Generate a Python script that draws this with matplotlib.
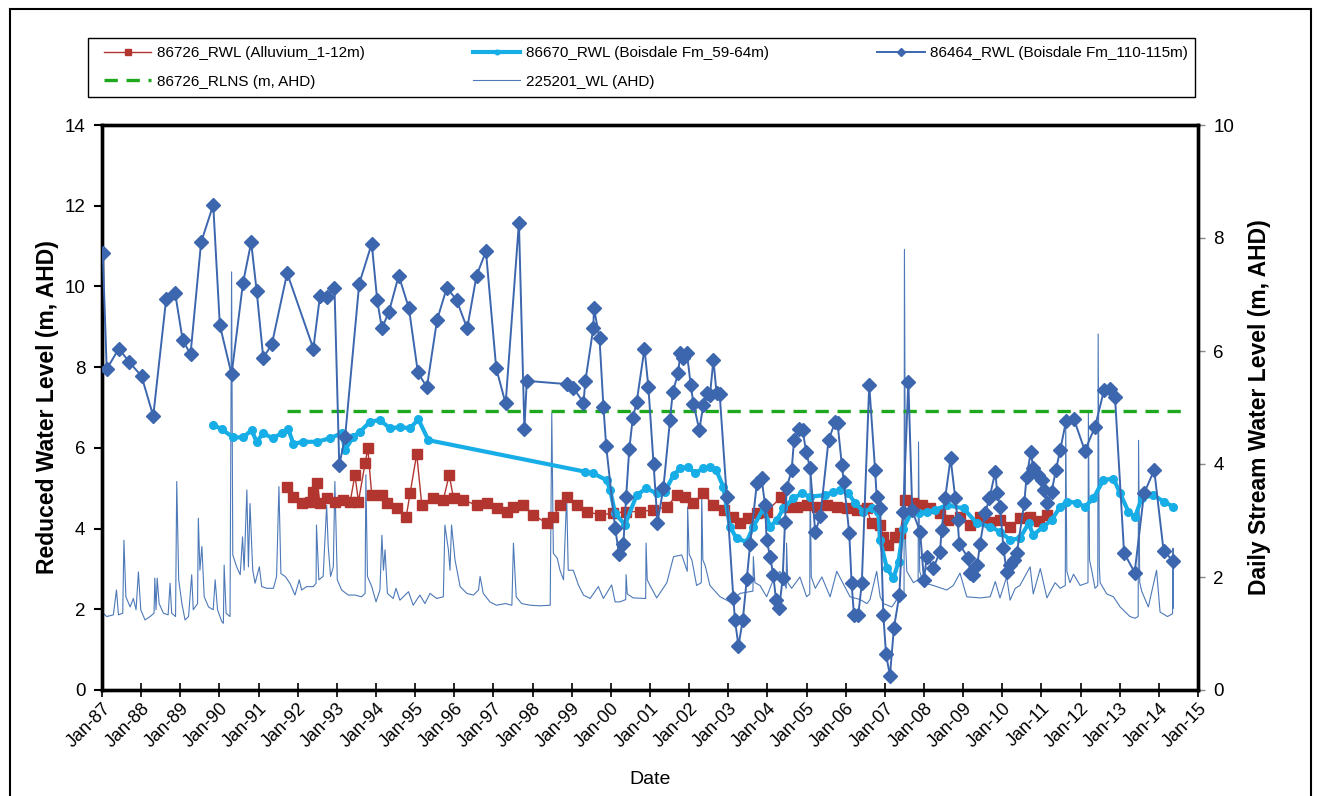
import datetime as dt
import matplotlib
matplotlib.use("Agg")
import matplotlib.pyplot as plt
import matplotlib.dates as mdates
from matplotlib.patches import Rectangle

plt.rcParams['font.family'] = ['Liberation Sans', 'DejaVu Sans']

# 86726_RWL (Alluvium_1-12m), decimal year / reduced water level (m AHD)
rwl_86726_year = [
    1991.73, 1991.89, 1992.10, 1992.31, 1992.40, 1992.50, 1992.57, 1992.74, 1992.95, 1993.16,
    1993.34, 1993.46, 1993.55, 1993.72, 1993.79, 1993.89, 1994.15, 1994.27, 1994.53, 1994.77,
    1994.87, 1995.04, 1995.17, 1995.46, 1995.72, 1995.87, 1995.98, 1996.23, 1996.57, 1996.83,
    1997.08, 1997.34, 1997.51, 1997.76, 1998.02, 1998.36, 1998.53, 1998.70, 1998.87, 1999.13,
    1999.38, 1999.72, 2000.06, 2000.40, 2000.75, 2001.08, 2001.43, 2001.68, 2001.90, 2002.11,
    2002.36, 2002.62, 2002.88, 2003.13, 2003.30, 2003.51, 2003.73, 2003.98, 2004.36, 2004.49,
    2004.75, 2005.00, 2005.26, 2005.51, 2005.77, 2006.03, 2006.28, 2006.54, 2006.66, 2006.88,
    2006.96, 2007.09, 2007.26, 2007.39, 2007.52, 2007.73, 2007.94, 2008.15, 2008.41, 2008.62,
    2008.92, 2009.18, 2009.43, 2009.69, 2009.94, 2010.20, 2010.45, 2010.71, 2010.95, 2011.14]
rwl_86726_level = [
    5.04, 4.79, 4.63, 4.67, 4.91, 5.12, 4.63, 4.75, 4.67, 4.71,
    4.67, 5.33, 4.67, 5.62, 5.99, 4.83, 4.83, 4.63, 4.50, 4.29,
    4.87, 5.85, 4.58, 4.75, 4.71, 5.33, 4.75, 4.71, 4.58, 4.63,
    4.50, 4.42, 4.54, 4.58, 4.34, 4.13, 4.29, 4.58, 4.79, 4.58,
    4.42, 4.34, 4.38, 4.42, 4.42, 4.46, 4.54, 4.83, 4.79, 4.63,
    4.87, 4.58, 4.46, 4.29, 4.13, 4.25, 4.38, 4.42, 4.79, 4.54,
    4.54, 4.58, 4.54, 4.58, 4.54, 4.50, 4.46, 4.50, 4.13, 4.09,
    3.80, 3.59, 3.80, 3.88, 4.71, 4.63, 4.58, 4.50, 4.38, 4.21,
    4.29, 4.09, 4.29, 4.17, 4.21, 4.05, 4.25, 4.29, 4.20, 4.34]

# 86670_RWL (Boisdale Fm_59-64m)
rwl_86670_year = [
    1989.84, 1990.06, 1990.35, 1990.61, 1990.82, 1990.95, 1991.12, 1991.36, 1991.59, 1991.76,
    1991.89, 1992.14, 1992.49, 1992.83, 1993.12, 1993.21, 1993.42, 1993.59, 1993.85, 1994.10,
    1994.36, 1994.61, 1994.87, 1995.08, 1995.34, 1999.34, 1999.55, 1999.89, 1999.98, 2000.11,
    2000.36, 2000.66, 2000.91, 2001.17, 2001.38, 2001.60, 2001.77, 2001.98, 2002.15, 2002.36,
    2002.53, 2002.69, 2002.87, 2003.04, 2003.21, 2003.47, 2003.64, 2003.90, 2004.07, 2004.24,
    2004.41, 2004.66, 2004.88, 2005.09, 2005.47, 2005.68, 2005.86, 2006.07, 2006.24, 2006.45,
    2006.66, 2006.83, 2006.88, 2007.05, 2007.22, 2007.35, 2007.47, 2007.69, 2007.86, 2008.07,
    2008.28, 2008.58, 2009.01, 2009.35, 2009.69, 2009.94, 2010.20, 2010.45, 2010.67, 2010.79,
    2011.05, 2011.26, 2011.48, 2011.65, 2011.90, 2012.11, 2012.33, 2012.58, 2012.84, 2013.01,
    2013.22, 2013.39, 2013.56, 2013.86, 2014.12, 2014.37]
rwl_86670_level = [
    6.57, 6.46, 6.26, 6.26, 6.44, 6.15, 6.36, 6.24, 6.36, 6.46,
    6.10, 6.15, 6.15, 6.24, 6.36, 5.95, 6.28, 6.40, 6.65, 6.69,
    6.48, 6.52, 6.48, 6.71, 6.19, 5.41, 5.37, 5.20, 4.96, 4.38,
    4.09, 4.83, 5.00, 4.87, 4.91, 5.33, 5.49, 5.53, 5.37, 5.49,
    5.52, 5.45, 5.04, 4.05, 3.76, 3.67, 4.05, 4.50, 4.05, 4.21,
    4.50, 4.75, 4.87, 4.79, 4.83, 4.91, 4.96, 4.87, 4.63, 4.42,
    4.50, 4.42, 3.72, 3.02, 2.77, 3.18, 4.00, 4.42, 4.38, 4.42,
    4.46, 4.58, 4.50, 4.13, 4.05, 3.92, 3.72, 3.76, 4.13, 3.84,
    4.05, 4.21, 4.54, 4.67, 4.64, 4.54, 4.75, 5.20, 5.24, 4.87,
    4.42, 4.29, 4.75, 4.83, 4.67, 4.54]

# 86464_RWL (Boisdale Fm_110-115m)
rwl_86464_year = [
    1987.02, 1987.12, 1987.43, 1987.70, 1988.01, 1988.31, 1988.64, 1988.87, 1989.06, 1989.26,
    1989.53, 1989.84, 1990.01, 1990.31, 1990.60, 1990.81, 1990.95, 1991.12, 1991.34, 1991.73,
    1992.40, 1992.57, 1992.74, 1992.94, 1993.06, 1993.21, 1993.57, 1993.89, 1994.03, 1994.15,
    1994.33, 1994.58, 1994.84, 1995.07, 1995.30, 1995.56, 1995.81, 1996.06, 1996.33, 1996.57,
    1996.81, 1997.07, 1997.31, 1997.65, 1997.79, 1997.85, 1998.87, 1999.04, 1999.30, 1999.35,
    1999.55, 1999.57, 1999.71, 1999.81, 1999.88, 2000.11, 2000.21, 2000.32, 2000.39, 2000.47,
    2000.56, 2000.66, 2000.86, 2000.96, 2001.09, 2001.19, 2001.34, 2001.51, 2001.58, 2001.72,
    2001.77, 2001.85, 2001.94, 2002.04, 2002.11, 2002.26, 2002.36, 2002.45, 2002.53, 2002.62,
    2002.70, 2002.78, 2002.96, 2003.13, 2003.17, 2003.26, 2003.37, 2003.47, 2003.56, 2003.73,
    2003.85, 2003.94, 2003.98, 2004.07, 2004.15, 2004.22, 2004.30, 2004.39, 2004.45, 2004.49,
    2004.62, 2004.68, 2004.82, 2004.90, 2004.99, 2005.09, 2005.22, 2005.35, 2005.56, 2005.73,
    2005.79, 2005.90, 2005.95, 2006.09, 2006.15, 2006.21, 2006.32, 2006.41, 2006.60, 2006.75,
    2006.79, 2006.88, 2006.96, 2007.03, 2007.13, 2007.23, 2007.37, 2007.47, 2007.60, 2007.70,
    2007.90, 2008.00, 2008.07, 2008.24, 2008.41, 2008.45, 2008.54, 2008.68, 2008.80, 2008.86,
    2008.90, 2009.13, 2009.18, 2009.26, 2009.36, 2009.43, 2009.56, 2009.67, 2009.82, 2009.87,
    2009.94, 2010.03, 2010.11, 2010.20, 2010.31, 2010.37, 2010.56, 2010.62, 2010.73, 2010.79,
    2010.92, 2011.01, 2011.07, 2011.15, 2011.26, 2011.37, 2011.48, 2011.63, 2011.83, 2012.11,
    2012.37, 2012.60, 2012.75, 2012.88, 2013.11, 2013.38, 2013.62, 2013.88, 2014.12, 2014.36]
rwl_86464_level = [
    10.83, 7.95, 8.46, 8.12, 7.78, 6.79, 9.69, 9.83, 8.67, 8.32,
    11.09, 12.02, 9.04, 7.82, 10.08, 11.09, 9.89, 8.23, 8.57, 10.33,
    8.46, 9.77, 9.75, 9.97, 5.57, 6.28, 10.07, 11.06, 9.66, 8.96,
    9.37, 10.27, 9.46, 7.87, 7.50, 9.17, 9.97, 9.66, 8.96, 10.27,
    10.87, 7.97, 7.10, 11.58, 6.46, 7.66, 7.58, 7.49, 7.12, 7.66,
    8.96, 9.46, 8.71, 7.02, 6.05, 4.01, 3.37, 3.61, 4.77, 5.96,
    6.73, 7.14, 8.46, 7.50, 5.59, 4.15, 5.00, 6.69, 7.39, 7.85,
    8.34, 8.22, 8.36, 7.56, 7.09, 6.44, 7.06, 7.35, 7.30, 8.18,
    7.35, 7.33, 4.79, 2.27, 1.73, 1.10, 1.73, 2.74, 3.63, 5.12,
    5.25, 4.58, 3.72, 3.30, 2.85, 2.23, 2.02, 2.77, 4.17, 5.00,
    5.45, 6.19, 6.46, 6.44, 5.90, 5.49, 3.91, 4.30, 6.19, 6.65,
    6.61, 5.57, 5.16, 3.88, 2.64, 1.86, 1.86, 2.64, 7.56, 5.45,
    4.79, 4.50, 1.86, 0.89, 0.35, 1.53, 2.35, 4.42, 7.64, 4.45,
    3.92, 2.73, 3.30, 3.02, 3.43, 3.96, 4.75, 5.74, 4.75, 4.21,
    3.63, 3.26, 2.89, 2.85, 3.10, 3.62, 4.38, 4.75, 5.41, 4.87,
    4.54, 3.51, 2.93, 3.10, 3.22, 3.39, 4.63, 5.29, 5.90, 5.49,
    5.33, 5.20, 4.96, 4.63, 4.91, 5.45, 5.95, 6.67, 6.71, 5.93,
    6.52, 7.43, 7.47, 7.27, 3.40, 2.91, 4.87, 5.45, 3.45, 3.20]

# 86726_RLNS (m, AHD)
rlns_year = [1991.73, 2014.59]
rlns_level = [6.91, 6.91]

# 225201_WL (AHD), daily stream level (right axis)
stream_year = [
    1987.03, 1987.12, 1987.29, 1987.37, 1987.42, 1987.53, 1987.56, 1987.61, 1987.72, 1987.80,
    1987.87, 1987.93, 1987.99, 1988.10, 1988.23, 1988.33, 1988.35, 1988.38, 1988.41, 1988.46,
    1988.57, 1988.69, 1988.74, 1988.78, 1988.88, 1988.91, 1988.96, 1989.04, 1989.12, 1989.21,
    1989.29, 1989.33, 1989.44, 1989.46, 1989.50, 1989.55, 1989.61, 1989.72, 1989.84, 1989.89,
    1989.95, 1990.06, 1990.10, 1990.12, 1990.17, 1990.27, 1990.31, 1990.34, 1990.44, 1990.53,
    1990.59, 1990.63, 1990.70, 1990.74, 1990.78, 1990.85, 1990.91, 1991.02, 1991.08, 1991.21,
    1991.38, 1991.46, 1991.52, 1991.57, 1991.68, 1991.80, 1991.93, 1992.04, 1992.10, 1992.23,
    1992.40, 1992.47, 1992.48, 1992.54, 1992.65, 1992.74, 1992.78, 1992.84, 1992.91, 1992.95,
    1993.01, 1993.12, 1993.29, 1993.46, 1993.63, 1993.72, 1993.74, 1993.78, 1993.89, 1994.00,
    1994.10, 1994.15, 1994.19, 1994.23, 1994.29, 1994.44, 1994.51, 1994.61, 1994.83, 1994.95,
    1995.12, 1995.25, 1995.38, 1995.55, 1995.72, 1995.76, 1995.85, 1995.89, 1995.93, 1996.02,
    1996.15, 1996.32, 1996.49, 1996.62, 1996.66, 1996.74, 1996.91, 1997.08, 1997.30, 1997.47,
    1997.51, 1997.58, 1997.72, 1997.94, 1998.19, 1998.45, 1998.49, 1998.53, 1998.63, 1998.70,
    1998.79, 1998.87, 1998.91, 1999.04, 1999.17, 1999.30, 1999.47, 1999.68, 1999.81, 2000.02,
    2000.11, 2000.23, 2000.38, 2000.39, 2000.42, 2000.57, 2000.89, 2000.90, 2000.93, 2001.00,
    2001.17, 2001.43, 2001.60, 2001.81, 2001.95, 2001.96, 2002.00, 2002.07, 2002.19, 2002.31,
    2002.32, 2002.35, 2002.41, 2002.53, 2002.79, 2003.04, 2003.30, 2003.63, 2003.64, 2003.68,
    2003.81, 2003.98, 2004.15, 2004.32, 2004.48, 2004.49, 2004.52, 2004.62, 2004.83, 2005.00,
    2005.08, 2005.09, 2005.12, 2005.22, 2005.39, 2005.60, 2005.77, 2006.11, 2006.37, 2006.54,
    2006.62, 2006.79, 2006.88, 2006.96, 2007.18, 2007.35, 2007.49, 2007.50, 2007.53, 2007.56,
    2007.73, 2007.85, 2007.86, 2007.89, 2007.98, 2008.24, 2008.58, 2008.75, 2008.92, 2009.09,
    2009.43, 2009.69, 2009.82, 2009.94, 2010.11, 2010.20, 2010.33, 2010.45, 2010.71, 2010.79,
    2010.97, 2011.14, 2011.35, 2011.48, 2011.61, 2011.62, 2011.65, 2011.73, 2011.82, 2011.99,
    2012.19, 2012.20, 2012.23, 2012.29, 2012.37, 2012.44, 2012.45, 2012.48, 2012.50, 2012.67,
    2012.84, 2013.01, 2013.26, 2013.39, 2013.47, 2013.48, 2013.51, 2013.56, 2013.73, 2013.94,
    2014.03, 2014.22, 2014.35, 2014.36, 2014.37]
stream_level = [
    1.36, 1.30, 1.33, 1.77, 1.33, 1.36, 2.65, 1.65, 1.47, 1.62,
    1.42, 2.09, 1.42, 1.24, 1.30, 1.36, 1.98, 1.42, 1.98, 1.53,
    1.36, 1.33, 1.89, 1.36, 1.30, 3.69, 1.95, 1.53, 1.24, 1.30,
    2.04, 1.42, 1.53, 3.04, 2.12, 2.54, 1.65, 1.47, 1.42, 1.95,
    1.42, 1.21, 1.18, 2.21, 1.36, 1.30, 7.40, 2.39, 2.18, 2.04,
    2.71, 2.12, 3.54, 2.18, 3.30, 2.12, 1.89, 2.18, 1.83, 1.80,
    1.80, 2.01, 3.60, 2.06, 2.01, 1.89, 1.68, 1.95, 1.77, 1.83,
    1.83, 1.89, 2.92, 1.95, 2.01, 3.27, 2.54, 2.01, 2.18, 3.69,
    1.95, 1.77, 1.68, 1.68, 1.65, 1.71, 3.81, 2.01, 1.83, 1.56,
    1.77, 2.74, 2.12, 2.48, 1.71, 1.62, 1.80, 1.59, 1.74, 1.50,
    1.68, 1.53, 1.71, 1.62, 1.65, 2.92, 2.48, 2.12, 2.92, 2.30,
    1.83, 1.71, 1.68, 1.77, 2.01, 1.71, 1.56, 1.50, 1.53, 1.50,
    2.60, 1.65, 1.53, 1.50, 1.49, 1.50, 4.90, 2.42, 2.33, 2.12,
    1.95, 3.45, 2.12, 2.12, 1.86, 1.68, 1.62, 1.83, 1.62, 1.86,
    1.56, 1.56, 1.60, 2.04, 1.70, 1.63, 1.62, 2.60, 1.95, 1.85,
    1.63, 1.90, 2.36, 2.39, 2.10, 3.24, 2.40, 2.30, 1.85, 1.90,
    3.48, 2.30, 2.20, 1.85, 1.65, 1.56, 1.71, 1.75, 2.36, 1.90,
    1.85, 1.65, 1.95, 2.10, 1.80, 2.60, 1.90, 1.80, 2.00, 1.65,
    1.70, 3.78, 2.00, 1.80, 2.00, 1.65, 2.10, 1.65, 1.60, 1.53,
    1.60, 2.10, 1.65, 1.53, 1.47, 1.65, 1.70, 7.80, 2.60, 2.10,
    1.90, 1.95, 4.39, 2.10, 1.90, 1.85, 1.77, 1.85, 2.07, 1.65,
    1.63, 1.65, 1.92, 1.63, 2.00, 1.59, 1.80, 1.85, 2.18, 1.70,
    2.15, 1.63, 1.90, 1.80, 1.85, 4.78, 2.10, 1.90, 2.05, 1.85,
    1.90, 4.93, 2.30, 2.10, 1.80, 1.85, 6.30, 2.20, 1.90, 1.70,
    1.65, 1.47, 1.30, 1.27, 1.30, 4.42, 1.90, 1.75, 1.47, 2.12,
    1.38, 1.30, 1.35, 2.51, 1.45]

YEAR_TICKS = list(range(1987, 2016))

RED = '#B2362F'
LIGHT_BLUE = '#17ADE6'
DARK_BLUE = '#3C66AE'
STREAM_BLUE = '#4D79B8'
GREEN = '#1EA81E'

W, H = 1322, 796


def to_dates(years):
    # decimal year -> datetime
    out = []
    for y in years:
        base = dt.datetime(int(y), 1, 1)
        out.append(base + dt.timedelta(days=(y - int(y)) * 365.25))
    return out


fig = plt.figure(figsize=(W / 100, H / 100), dpi=100)
ax = fig.add_axes([102 / W, 1 - 690 / H, 1096 / W, 565 / H])
ax2 = ax.twinx()

# stream on the secondary axis, kept behind the bore data
s_line, = ax2.plot(to_dates(stream_year), stream_level, color=STREAM_BLUE, lw=0.8,
                   label='225201_WL (AHD)')
ax.set_zorder(ax2.get_zorder() + 1)
ax.patch.set_visible(False)

r_line, = ax.plot(to_dates(rwl_86726_year), rwl_86726_level, color=RED, lw=1.0,
                  marker='s', ms=6.5, mec=RED, mfc=RED, label='86726_RWL (Alluvium_1-12m)', zorder=3)
b_line, = ax.plot(to_dates(rwl_86670_year), rwl_86670_level, color=LIGHT_BLUE, lw=3.0,
                  marker='o', ms=5.5, mec=LIGHT_BLUE, mfc=LIGHT_BLUE,
                  label='86670_RWL (Boisdale Fm_59-64m)', zorder=4)
d_line, = ax.plot(to_dates(rwl_86464_year), rwl_86464_level, color=DARK_BLUE, lw=1.4,
                  marker='D', ms=7.5, mec=DARK_BLUE, mfc=DARK_BLUE,
                  label='86464_RWL (Boisdale Fm_110-115m)', zorder=5)
g_line, = ax.plot(to_dates(rlns_year), rlns_level, color=GREEN, lw=2.4, ls=(0, (4, 2.6)),
                  label='86726_RLNS (m, AHD)', zorder=2)

# axes
ax.set_xlim(dt.datetime(1987, 1, 1), dt.datetime(2015, 1, 1))
ax.set_ylim(0, 14)
ax.set_yticks(range(0, 15, 2))
ax2.set_ylim(0, 10)
ax2.set_yticks(range(0, 11, 2))

ax.set_xticks([dt.datetime(y, 1, 1) for y in YEAR_TICKS])
ax.xaxis.set_major_formatter(mdates.DateFormatter('%b-%y'))
for lbl in ax.get_xticklabels():
    lbl.set_rotation(45)
    lbl.set_ha('right')
    lbl.set_rotation_mode('anchor')

for a in (ax, ax2):
    for sp in a.spines.values():
        sp.set_linewidth(2.4)
        sp.set_color('black')

ax.tick_params(axis='y', direction='out', length=6, width=1.5, labelsize=13.5, pad=6)
ax.tick_params(axis='x', direction='inout', length=10, width=1.2, labelsize=13, pad=2)
ax2.tick_params(axis='y', direction='out', length=5, width=1.0, color='#888888',
                labelsize=13.5, pad=6)

ax.set_ylabel('Reduced Water Level (m, AHD)', fontsize=16.5, fontweight='bold')
ax.yaxis.set_label_coords(-0.039, 0.5)
ax2.set_ylabel('Daily Stream Water Level (m, AHD)', fontsize=16.5, fontweight='bold')
ax2.yaxis.set_label_coords(1.046, 0.5)
ax.set_xlabel('Date', fontsize=14)
ax.xaxis.set_label_coords(0.5, -0.143)

# legend: columns filled top-down, so order gives rows red/lightblue/darkblue, green/stream
handles = [r_line, g_line, b_line, s_line, d_line]
leg = fig.legend(handles=handles, labels=[h.get_label() for h in handles], ncol=3,
                 loc='upper left', bbox_to_anchor=(104 / W, 1 - 46 / H),
                 fontsize=11, frameon=False, borderaxespad=0, borderpad=0,
                 handlelength=3.1, handletextpad=0.35, columnspacing=7.1,
                 markerscale=0.6, labelspacing=0.95)

# legend box drawn separately so its padding can match the original
fig.patches.append(Rectangle((88 / W, 1 - 97 / H), 1107 / W, 59 / H,
                             transform=fig.transFigure, fill=False, lw=1.0, ec='black'))

# outer border of the picture
fig.patches.append(Rectangle((10 / W, -0.02), 1301 / W, 1.02 - 9 / H,
                             transform=fig.transFigure, fill=False, lw=1.5, ec='black'))

fig.savefig('out.png', dpi=100)
